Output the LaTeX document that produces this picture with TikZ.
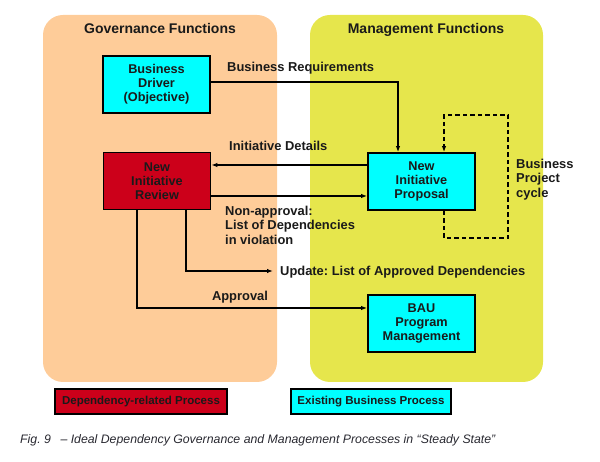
\documentclass[tikz,border=0pt]{standalone}
\usepackage{fontspec}
\setmainfont{Liberation Sans}
\usetikzlibrary{arrows.meta}
\definecolor{peach}{RGB}{254,204,153}
\definecolor{ylw}{RGB}{230,230,76}
\definecolor{cyn}{RGB}{0,255,255}
\definecolor{drd}{RGB}{204,0,26}
\definecolor{txt}{RGB}{26,26,26}
\definecolor{captxt}{RGB}{40,40,48}
\frenchspacing
\begin{document}
\begin{tikzpicture}[x=1pt,y=-1pt,
  panel/.style={rounded corners=20pt},
  procbox/.style={draw=black, line width=1.8pt, minimum width=107pt, minimum height=57pt, align=center, inner sep=0pt, text=txt, font=\bfseries\fontsize{12.7}{14}\selectfont},
  legbox/.style={draw=black, line width=1.5pt, minimum height=25pt, inner sep=0pt, text=txt, font=\bfseries\fontsize{11.5}{13}\selectfont},
  lbl/.style={inner sep=0pt, text=txt, align=left, font=\bfseries\fontsize{12.9}{14.5}\selectfont},
  ttl/.style={inner sep=0pt, text=txt, font=\bfseries\fontsize{14}{16}\selectfont},
  arr/.style={line width=1.4pt, -{Latex[length=6pt,width=4.5pt]}},
  dsh/.style={line width=1.8pt, dash pattern=on 4.5pt off 3pt, -{Latex[length=6pt,width=4.5pt]}}
]
\useasboundingbox (0,0) rectangle (600,462);
\fill[peach, panel] (43,15) rectangle (277,382);
\fill[ylw, panel] (310,15) rectangle (543,382);
\node[ttl, anchor=base] (tg) at (160,34) {Governance Functions};
\node[ttl, anchor=base] (tm) at (426,34) {Management Functions};

\node[procbox, fill=cyn] (bd) at (156.5,84.5) {Business\\Driver\\(Objective)};
\node[procbox, fill=drd] (nir) at (157,181) {New\\Initiative\\Review};
\node[procbox, fill=cyn] (nip) at (421.5,181.5) {New\\Initiative\\Proposal};
\node[procbox, fill=cyn] (bau) at (421.5,323.5) {BAU\\Program\\Management};

% connectors
\draw[arr] ([yshift=2.5pt]bd.east) -| ([xshift=-23.5pt]nip.north);
\node[lbl, anchor=base west] (lbr) at (227,72) {Business Requirements};

\draw[arr] ([yshift=16.5pt]nip.west) -- ([yshift=16.5pt]nip.west -| nir.east);
\node[lbl, anchor=base west] (lid) at (229,151) {Initiative Details};

\draw[arr] ([yshift=-15pt]nir.east) -- ([yshift=-15pt]nir.east -| nip.west);
\node[lbl, anchor=north west] (lna) at (225,205.5) {Non-approval:\\List of Dependencies\\in violation};

\node[lbl, anchor=west] (lup) at (280,272) {Update: List of Approved Dependencies};
\draw[arr] ([xshift=29pt]nir.south) |- ([xshift=-7pt,yshift=1pt]lup.west);

\draw[arr] ([xshift=-20pt]nir.south) |- ([yshift=15.5pt]bau.west);
\node[lbl, anchor=base] (lap) at (240,301) {Approval};

\coordinate (lpbr) at (508,238);
\coordinate (lptr) at (508,115);
\draw[dsh] ([xshift=22.5pt]nip.south) |- (lpbr) -- (lptr) -| ([xshift=22.5pt]nip.north);
\node[lbl, anchor=north west] (lbp) at (516,158.5) {Business\\Project\\cycle};

% legend
\node[legbox, fill=drd, minimum width=172pt] (ldep) at (141,401.5) {Dependency-related Process};
\node[legbox, fill=cyn, minimum width=160pt] (lex) at (371,401.5) {Existing Business Process};

\node[inner sep=0pt, anchor=base west, text=captxt, font=\itshape\fontsize{12.3}{14}\selectfont] (cap) at (20,443) {Fig. 9\enspace\ – Ideal Dependency Governance and Management Processes in “Steady State”};
\end{tikzpicture}
\end{document}
